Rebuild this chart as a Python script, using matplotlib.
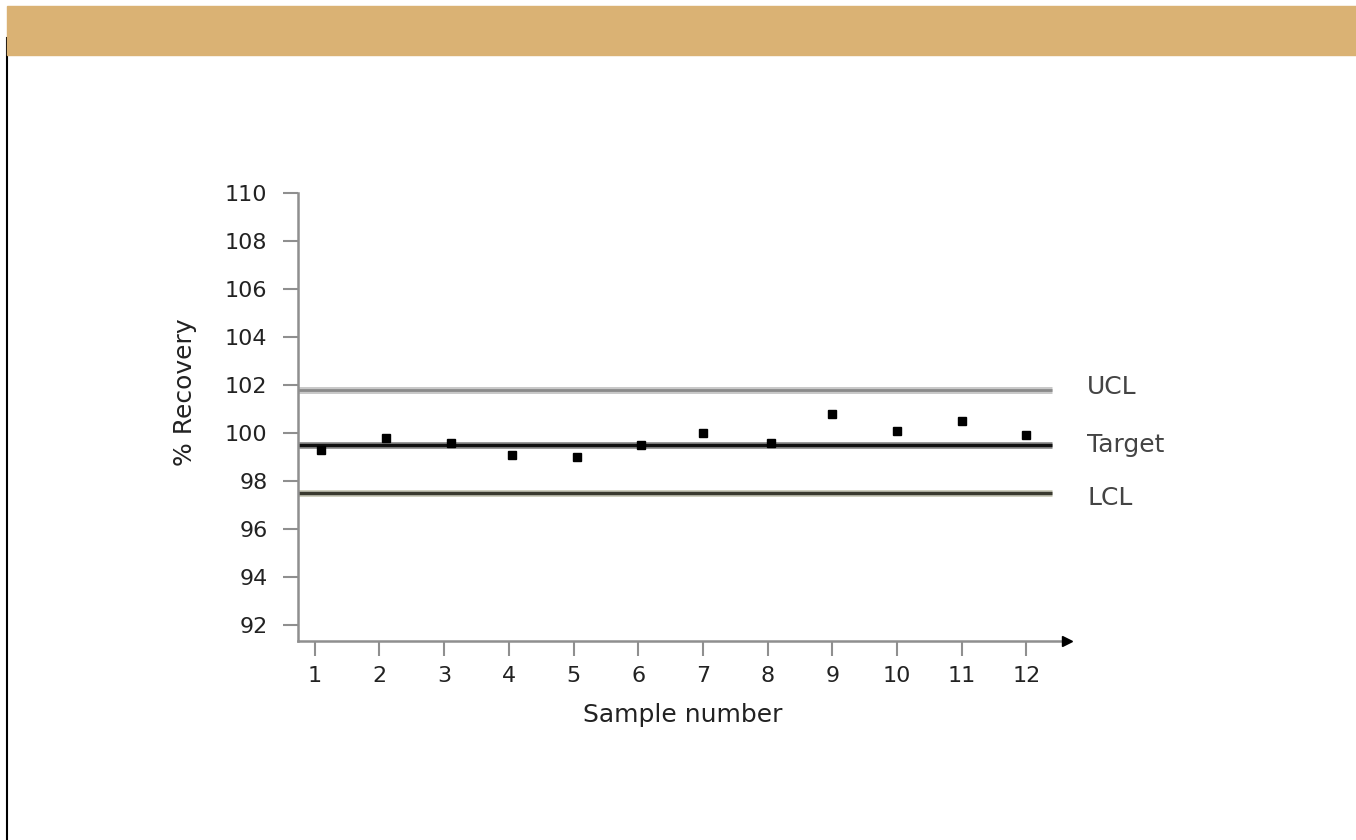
import matplotlib
matplotlib.use("Agg")
import matplotlib.pyplot as plt
from matplotlib.patches import Rectangle
from matplotlib.lines import Line2D

# データ
sample_no = [1, 2, 3, 4, 5, 6, 7, 8, 9, 10, 11, 12]
sample_pos = [1.1, 2.1, 3.1, 4.05, 5.05, 6.05, 7.0, 8.05, 9.0, 10.0, 11.0, 12.0]
recovery = [99.3, 99.8, 99.6, 99.1, 99.0, 99.5, 100.0, 99.6, 100.8, 100.1, 100.5, 99.9]

ucl = 101.8
target = 99.5
lcl = 97.5
limit_names = ["UCL", "Target", "LCL"]
limit_values = [ucl, target, lcl]
label_shift = [0.12, 0.0, -0.2]

yticks = [92, 94, 96, 98, 100, 102, 104, 106, 108, 110]

fig = plt.figure(figsize=(13.56, 8.4), dpi=100)

# 上の帯と左の縦線
fig.add_artist(Line2D([7/1356, 7/1356], [0, 1-38/840], color="black", lw=1.5,
                      transform=fig.transFigure))
fig.patches.append(Rectangle((7/1356, 1-55/840), 1-7/1356, 49/840,
                             transform=fig.transFigure, color="#dab274", zorder=5))

ax = fig.add_axes([298/1356, 1-641/840, 769/1356, 448/840])
ax.set_xlim(0.74, 12.63)
ax.set_ylim(91.33, 110)

#管理線
ax.plot([0.74, 12.4], [ucl, ucl], color="#c8c8c8", lw=5, solid_capstyle="butt")
ax.plot([0.74, 12.4], [ucl, ucl], color="#8a8a8a", lw=2, solid_capstyle="butt")
ax.plot([0.74, 12.4], [target, target], color="#9a9a9a", lw=5, solid_capstyle="butt")
ax.plot([0.74, 12.4], [target, target], color="#111111", lw=2.5, solid_capstyle="butt")
ax.plot([0.74, 12.4], [lcl, lcl], color="#cfcfbf", lw=5, solid_capstyle="butt")
ax.plot([0.74, 12.4], [lcl, lcl], color="#3a3a30", lw=2.5, solid_capstyle="butt")

# サンプル点
ax.plot(sample_pos, recovery, "s", color="black", ms=6, zorder=4)

for name, val, dy in zip(limit_names, limit_values, label_shift):
    ax.text(12.94, val + dy, name, fontsize=18, color="#444444",
            va="center", ha="left", clip_on=False)

# 軸の見た目
for s in ["top", "right"]:
    ax.spines[s].set_visible(False)
for s in ["left", "bottom"]:
    ax.spines[s].set_color("#8f8f8f")
    ax.spines[s].set_linewidth(1.8)

ax.plot([12.63], [91.33], marker=">", ms=7, color="black", clip_on=False, zorder=6)

ax.set_yticks(yticks)
ax.set_xticks(sample_no)
ax.tick_params(axis="y", length=11, width=1.5, color="#8f8f8f", pad=11,
               labelsize=16, labelcolor="#222222")
ax.tick_params(axis="x", length=11, width=1.5, color="#8f8f8f", pad=7,
               labelsize=16, labelcolor="#222222")

ax.set_xlabel("Sample number", fontsize=18, color="#222222", labelpad=12)
fig.text(185/1356, 1-392/840, "% Recovery", rotation=90, fontsize=18,
         color="#222222", ha="center", va="center")

fig.savefig("out.png", dpi=100)
